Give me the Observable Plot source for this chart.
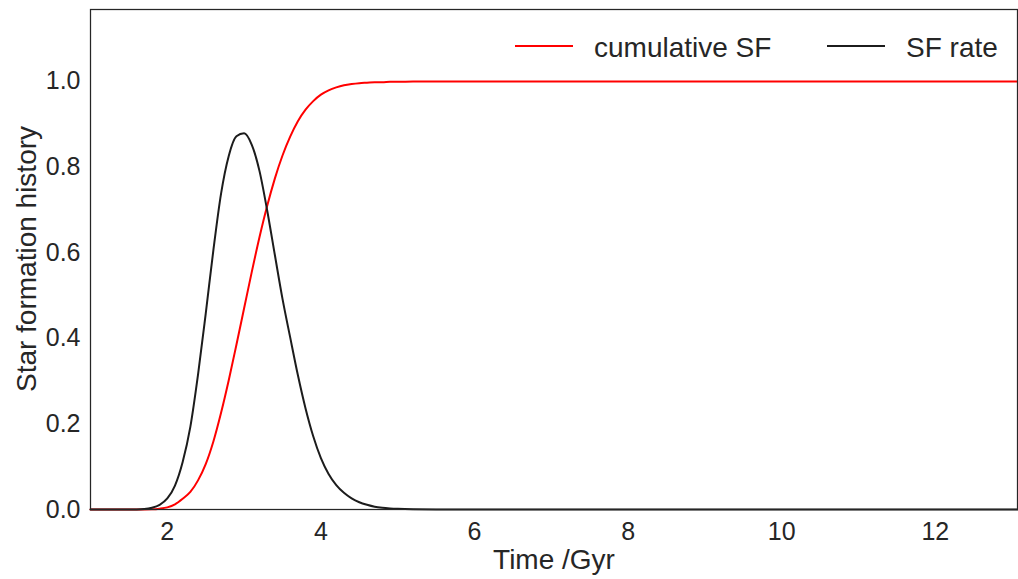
<!DOCTYPE html>
<html>
<head>
<meta charset="utf-8">
<script src="https://cdn.jsdelivr.net/npm/d3@7"></script>
<script src="https://cdn.jsdelivr.net/npm/@observablehq/plot@0.6"></script>
<style>
  html, body { margin: 0; padding: 0; background: white; }
  #wrap { position: relative; width: 1018px; height: 579px; font-family: "Liberation Sans", Arial, sans-serif; }
  #overlay { position: absolute; left: 0; top: 0; pointer-events: none; }
</style>
</head>
<body>
<div id="wrap"></div>
<script>
// Time grid (Gyr)
const time = [1.0, 1.5, 1.6, 1.7, 1.8, 1.9, 2.0, 2.1, 2.2, 2.3, 2.4, 2.5, 2.6, 2.7, 2.8, 2.9,
  3.0, 3.1, 3.2, 3.3, 3.4, 3.5, 3.6, 3.7, 3.8, 3.9, 4.0, 4.1, 4.2, 4.3, 4.4, 4.5, 4.6, 4.7,
  4.8, 4.9, 5.0, 5.2, 5.5, 6.0, 13.07];
// Star formation rate
const sfRate = [0, 0, 0.0002, 0.001, 0.004, 0.011, 0.026, 0.056, 0.111, 0.193, 0.315, 0.457,
  0.606, 0.738, 0.826, 0.872, 0.879, 0.852, 0.791, 0.699, 0.595, 0.492, 0.402, 0.314, 0.236,
  0.171, 0.120, 0.083, 0.057, 0.039, 0.026, 0.017, 0.011, 0.0065, 0.0040, 0.0025, 0.0015,
  0.0005, 0.0001, 0, 0];
// Cumulative star formation
const cumulativeSF = [0, 0, 0, 0.0001, 0.0005, 0.002, 0.005, 0.012, 0.025, 0.041, 0.068, 0.106,
  0.159, 0.226, 0.302, 0.385, 0.470, 0.555, 0.636, 0.709, 0.773, 0.827, 0.871, 0.907, 0.934,
  0.954, 0.969, 0.979, 0.986, 0.991, 0.994, 0.996, 0.997, 0.998, 0.998, 0.999, 0.999,
  1.0, 1.0, 1.0, 1.0];

const xTicks = [2, 4, 6, 8, 10, 12];
const yTicks = [0, 0.2, 0.4, 0.6, 0.8, 1.0];
const seriesNames = ["cumulative SF", "SF rate"];
const seriesColors = ["#ff0000", "#1c1c1c"];
const xLabel = "Time /Gyr";
const yLabel = "Star formation history";

const idx = d3.range(time.length);
const textColor = "#262626";
const font = "'Liberation Sans', Arial, sans-serif";

const chart = Plot.plot({
  width: 1018,
  height: 579,
  marginLeft: 90,
  marginRight: 1,
  marginTop: 9,
  marginBottom: 70,
  style: { fontFamily: font, color: textColor, background: "white" },
  x: { domain: [1, 13.07] },
  y: { domain: [0, 1.168] },
  marks: [
    Plot.axisX({ ticks: xTicks, tickSize: 0, tickPadding: 13, fontSize: 25, label: null }),
    Plot.axisY({ ticks: yTicks, tickSize: 0, tickPadding: 10, fontSize: 25, tickFormat: d => d.toFixed(1), label: null }),
    Plot.line(idx, { x: i => time[i], y: i => cumulativeSF[i], stroke: seriesColors[0], strokeWidth: 2, curve: "monotone-x" }),
    Plot.line(idx, { x: i => time[i], y: i => sfRate[i], stroke: seriesColors[1], strokeWidth: 2, curve: "monotone-x" }),
    Plot.frame({ stroke: textColor, strokeWidth: 1.25 }),
    Plot.text([xLabel], { text: d => d, frameAnchor: "bottom", lineAnchor: "bottom", dy: 59, fontSize: 28, fill: textColor })
  ]
});

const wrap = document.getElementById("wrap");
wrap.appendChild(chart);

// Overlay: y-axis title and legend (upper right, line swatches)
const ns = "http://www.w3.org/2000/svg";
const ov = document.createElementNS(ns, "svg");
ov.setAttribute("id", "overlay");
ov.setAttribute("width", 1018);
ov.setAttribute("height", 579);

const yt = document.createElementNS(ns, "text");
yt.setAttribute("transform", "translate(26,259) rotate(-90)");
yt.setAttribute("text-anchor", "middle");
yt.setAttribute("dy", "0.35em");
yt.setAttribute("font-size", 28);
yt.setAttribute("font-family", font);
yt.setAttribute("fill", textColor);
yt.textContent = yLabel;
ov.appendChild(yt);

const entries = [
  { x0: 515, x1: 573, tx: 594 },
  { x0: 827, x1: 885, tx: 906 }
];
entries.forEach((e, k) => {
  const l = document.createElementNS(ns, "line");
  l.setAttribute("x1", e.x0); l.setAttribute("x2", e.x1);
  l.setAttribute("y1", 46); l.setAttribute("y2", 46);
  l.setAttribute("stroke", seriesColors[k]); l.setAttribute("stroke-width", 2);
  ov.appendChild(l);
  const t = document.createElementNS(ns, "text");
  t.setAttribute("x", e.tx); t.setAttribute("y", 56.5);
  t.setAttribute("font-size", 28);
  t.setAttribute("font-family", font);
  t.setAttribute("fill", textColor);
  t.textContent = seriesNames[k];
  ov.appendChild(t);
});
wrap.appendChild(ov);
</script>
</body>
</html>
